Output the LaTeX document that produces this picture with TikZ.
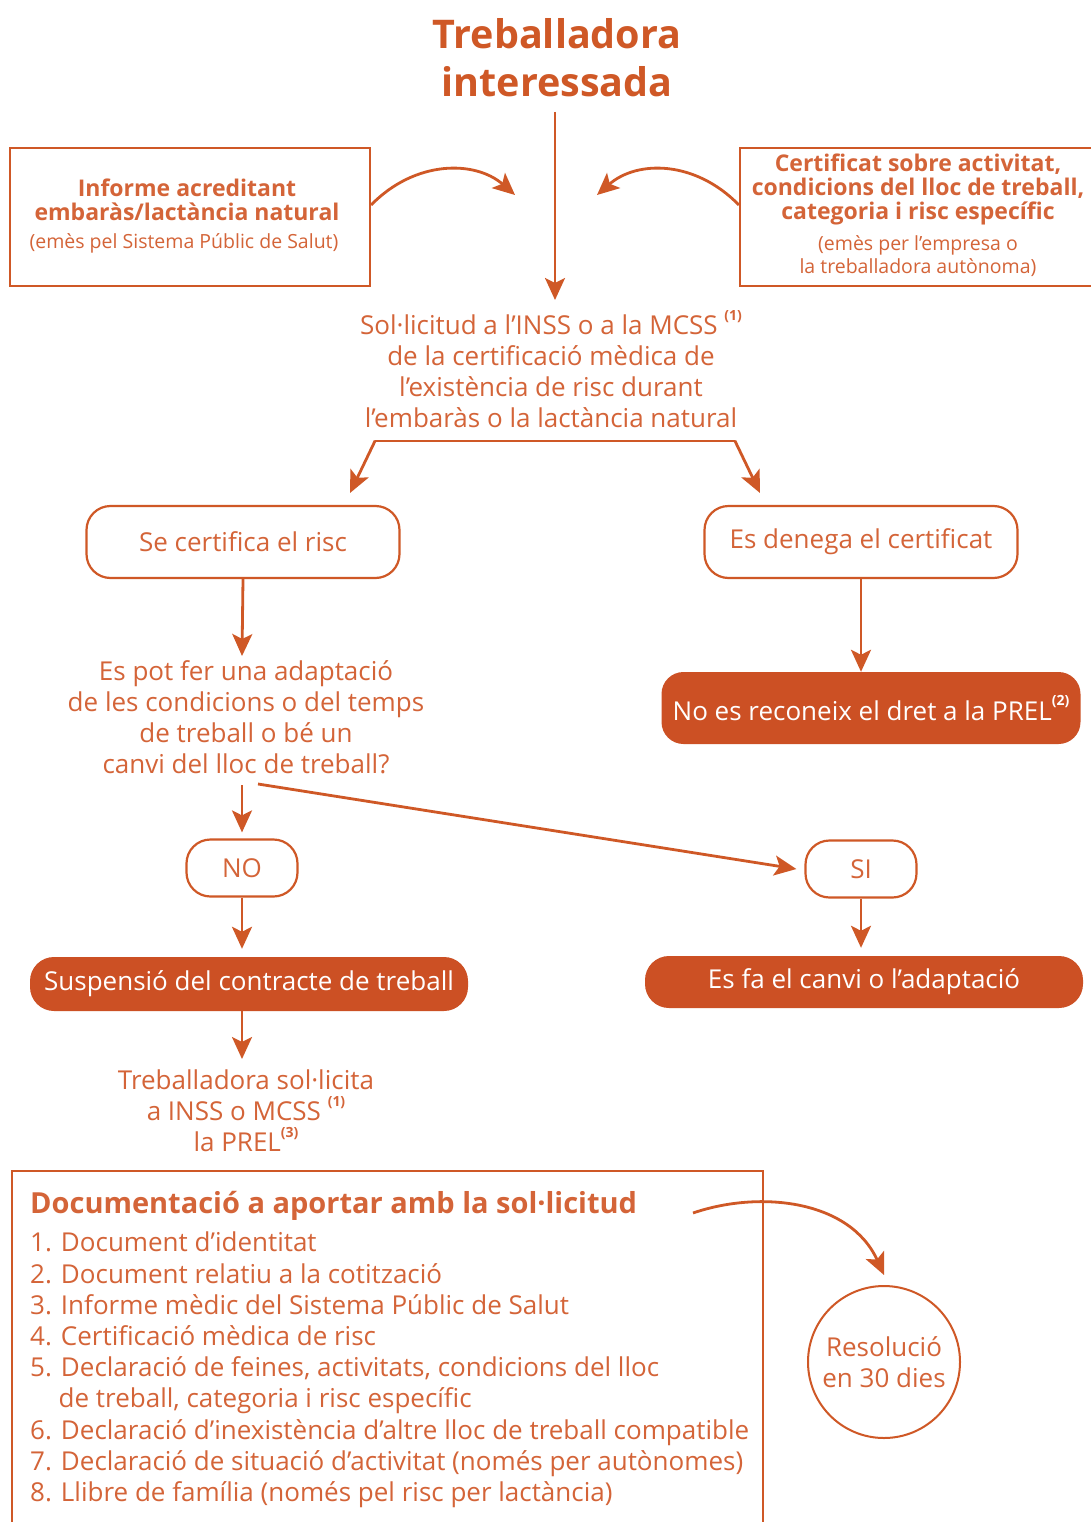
\documentclass[tikz,border=0pt]{standalone}
\usepackage{fontspec}
\setmainfont{Open Sans}
\usetikzlibrary{arrows.meta}
\definecolor{orng}{RGB}{207,88,38}
\definecolor{txt}{RGB}{212,100,56}
\definecolor{fillc}{RGB}{204,80,36}
\newcommand{\supr}[1]{\raisebox{0.55em}{\fontsize{14}{14}\selectfont\bfseries #1}}
\begin{document}
\begin{tikzpicture}[x=1pt,y=-1pt,
  arr/.style={-{Stealth[length=22pt,width=20pt,inset=5pt]}, line width=2.8pt, draw=orng},
  ln/.style={line width=2.8pt, draw=orng},
  body/.style={text=txt, align=center, font=\fontsize{26}{31}\selectfont, inner sep=0pt},
  rectbox/.style={draw=orng, line width=2.2pt, text=txt, align=center, inner sep=0pt},
  boldt/.style={text=txt, align=center, inner sep=0pt, font=\fontsize{23}{24}\selectfont\bfseries},
  smallt/.style={text=txt, align=center, inner sep=0pt, font=\fontsize{19.5}{23}\selectfont},
  rbox/.style={draw=orng, line width=2.2pt, rounded corners=24pt, text=txt, font=\fontsize{26}{31}\selectfont, inner sep=0pt},
  fbox/.style={fill=fillc, rounded corners=22pt, text=white, font=\fontsize{26}{31}\selectfont, inner sep=0pt}
]
\useasboundingbox (0,0) rectangle (1091,1522);
\fill[white] (0,0) rectangle (1091,1522);

% title
\node[text=orng, align=center, font=\fontsize{39.5}{48}\selectfont\bfseries, inner sep=0pt] (title) at (557,58) {Treballadora\\interessada};

% left box
\node[rectbox, minimum width=360pt, minimum height=138pt] (inf) at (190,217) {};
\node[boldt] (inft) at (187,200) {Informe acreditant\\embaràs/lactància natural};
\node[smallt] (infs) at (184,243) {(emès pel Sistema Públic de Salut)};

% right box
\node[rectbox, minimum width=360pt, minimum height=138pt] (cert) at (920,217) {};
\node[boldt] (certt) at (918,189) {Certificat sobre activitat,\\condicions del lloc de treball,\\categoria i risc específic};
\node[smallt] (certs) at (918,256) {(emès per l’empresa o\\la treballadora autònoma)};

% solicitud
\node[body] (sol) at (551,369) {Sol·licitud a l’INSS o a la MCSS \supr{(1)}\\de la certificació mèdica de\\l’existència de risc durant\\l’embaràs o la lactància natural};

\coordinate (le) at (515,195);
\coordinate (re) at (597,195);
\coordinate (ts) at (555,112);
\coordinate (tsend) at (555,300);
\draw[arr] (ts) -- (tsend);
\draw[arr] ([yshift=12pt]inf.east) .. controls (415,160) and (475,160) .. (le);
\draw[arr] ([yshift=12pt]cert.west) .. controls (695,160) and (637,160) .. (re);

% branch
\coordinate (bl) at (375,441);
\coordinate (br) at (735,441);
\coordinate (bla) at (350,493);
\coordinate (bra) at (760,493);
\draw[ln, line cap=round] (bl) -- (br);
\draw[arr] (bl) -- (bla);
\draw[arr] (br) -- (bra);

% second row
\node[rbox, minimum width=313pt, minimum height=72pt] (se) at (243,542) {Se certifica el risc};
\node[rbox, minimum width=313pt, minimum height=72pt] (den) at (861,542) {Es denega el certificat};

\node[body] (q) at (246,717) {Es pot fer una adaptació\\de les condicions o del temps\\de treball o bé un\\canvi del lloc de treball?};

\node[fbox, minimum width=419pt, minimum height=72pt] (nor) at (871,708) {No es reconeix el dret a la PREL\supr{(2)}};

\draw[arr] (se.south) -- (242,656);
\draw[arr] (den.south) -- (nor.north -| den.south);

% NO / SI
\node[rbox, minimum width=111pt, minimum height=57pt, rounded corners=24pt] (no) at (242,868) {NO};
\node[rbox, minimum width=111pt, minimum height=57pt, rounded corners=24pt] (si) at (861,869) {SI};

\coordinate (qa) at (242,785);
\coordinate (qb) at (258,784);
\draw[arr] (qa) -- ([yshift=6pt]no.north);
\draw[arr] (qb) -- ([xshift=-8pt]si.west);

\node[fbox, minimum width=438pt, minimum height=54pt, rounded corners=24pt] (sus) at (249,984) {Suspensió del contracte de treball};
\node[fbox, minimum width=438pt, minimum height=52pt, rounded corners=24pt] (fa) at (864,982) {Es fa el canvi o l’adaptació};

\draw[arr] (no.south) -- ([yshift=8pt]sus.north -| no.south);
\draw[arr] (si.south) -- ([yshift=8pt]fa.north -| si.south);

\node[body] (tsol) at (246,1111) {Treballadora sol·licita\\a INSS o MCSS \supr{(1)}\\la PREL\supr{(3)}};
\draw[arr] (sus.south -| no.south) -- (242,1059);

% documentation box
\draw[orng, line width=2pt] (12,1540) -- (12,1171) -- (763,1171) -- (763,1540);
\node[text=txt, anchor=north west, inner sep=0pt, font=\fontsize{29}{31}\selectfont\bfseries] (doct) at (30,1191) {Documentació a aportar amb la sol·licitud};
\node[text=txt, anchor=north west, align=left, inner sep=0pt, font=\fontsize{26}{31.2}\selectfont] (docl) at (30,1232) {1. Document d’identitat\\2. Document relatiu a la cotització\\3. Informe mèdic del Sistema Públic de Salut\\4. Certificació mèdica de risc\\5. Declaració de feines, activitats, condicions del lloc\\\phantom{5.} de treball, categoria i risc específic\\6. Declaració d’inexistència d’altre lloc de treball compatible\\7. Declaració de situació d’activitat (només per autònomes)\\8. Llibre de família (només pel risc per lactància)};

\node[circle, draw=orng, line width=2pt, minimum size=152pt, text=txt, align=center, inner sep=0pt, font=\fontsize{26}{31}\selectfont] (res) at (884,1362) {Resolució\\en 30 dies};
\coordinate (ds) at (693,1213);
\draw[arr] (ds) .. controls (760,1190) and (850,1200) .. ([yshift=10pt]res.north);
\end{tikzpicture}
\end{document}
